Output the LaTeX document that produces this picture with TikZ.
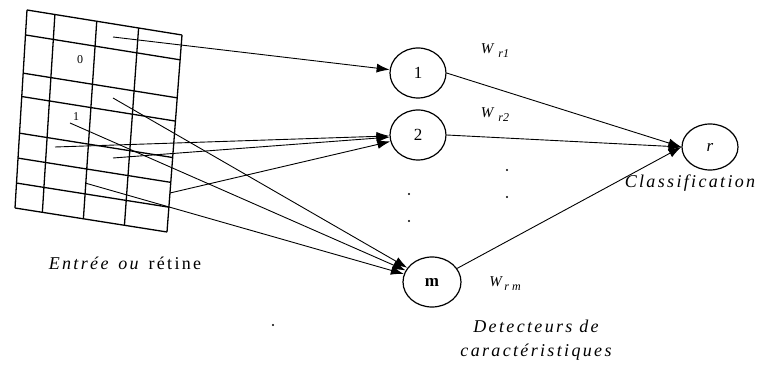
\documentclass[tikz,border=0pt]{standalone}
\usepackage{fontspec}
\setmainfont{Liberation Serif}
\usetikzlibrary{arrows.meta, positioning, shapes.geometric, calc}

\begin{document}
\begin{tikzpicture}[
  x=1pt, y=-1pt,
  >={Latex[length=13pt,width=9pt]},
  neuron/.style={draw, ellipse, line width=1.2pt, inner sep=0pt,
                 minimum width=56pt, minimum height=50pt,
                 font=\fontsize{17}{17}\selectfont},
  cell/.style={line width=1.3pt},
  syn/.style={->, line width=0.9pt},
  wlbl/.style={font=\fontsize{15}{15}\selectfont\itshape},
  caption/.style={font=\fontsize{18}{24}\selectfont\addfontfeatures{LetterSpace=13}\itshape,
                  align=center},
  celltxt/.style={font=\fontsize{12}{12}\selectfont, inner sep=0pt},
]
\useasboundingbox (0,0) rectangle (771,379);

%% Retina grid (slightly skewed)
\coordinate (TL) at (27,10);
\coordinate (TR) at (182,35);
\coordinate (BR) at (167,232);
\coordinate (BL) at (15,208);
\foreach \u in {0,0.18,0.45,0.72,1}{
  \draw[cell] ($(TL)!\u!(TR)$) -- ($(BL)!\u!(BR)$);
}
\foreach \v in {0,0.126,0.319,0.437,0.622,0.748,0.874,1}{
  \draw[cell] ($(TL)!\v!(BL)$) -- ($(TR)!\v!(BR)$);
}
\node[celltxt] (c0) at (80,60) {0};
\node[celltxt] (c1) at (76,117) {1};

%% Start points on the retina
\coordinate (s1) at (113,37);
\coordinate (s2) at (113,98);
\coordinate (s3) at (70,123);
\coordinate (s4) at (55,147);
\coordinate (s5) at (113,158);
\coordinate (s6) at (85,183);
\coordinate (s7) at (170,193);

%% Detectors and output
\node[neuron] (n1) at (418,73) {1};
\node[neuron] (n2) at (418,135) {2};
\node[neuron, minimum width=58pt] (nm) at (432,282) {\textbf{m}};
\node[neuron, minimum height=46pt] (nr) at (710,147) {\itshape r};

%% Retina -> detectors
\draw[syn] (s1) -- (n1);
\draw[syn] (s4) -- (n2);
\draw[syn] (s5) -- (n2);
\draw[syn] (s7) -- (n2);
\draw[syn] (s2) -- (nm);
\draw[syn] (s3) -- (nm);
\draw[syn] (s6) -- (nm);

%% Detectors -> classification
\draw[syn] (n1.east) -- (nr.west);
\draw[syn] (n2.east) -- (nr.west);
\draw[syn] (nm) -- (nr.west);

%% Dots
\foreach \p in {(409,194),(409,221),(507,170),(507,197),(273,325)}{
  \fill \p circle (1.1pt);
}

%% Weights
\node[wlbl] (w1) at (495,51) {W\,\,\raisebox{-4pt}{\fontsize{12}{12}\selectfont r1}};
\node[wlbl] (w2) at (495,115) {W\,\,\raisebox{-4pt}{\fontsize{12}{12}\selectfont r2}};
\node[wlbl] (wm) at (505,284) {W\,\raisebox{-4pt}{\fontsize{12}{12}\selectfont r m}};

%% Captions
\node[caption] (retina) at (125,263) {Entrée\, ou\, \upshape rétine};
\node[caption] (classif) at (690,183) {Classification};
\node[caption] (detect) at (536,340) {Detecteurs de\\caractéristiques};

\end{tikzpicture}
\end{document}
